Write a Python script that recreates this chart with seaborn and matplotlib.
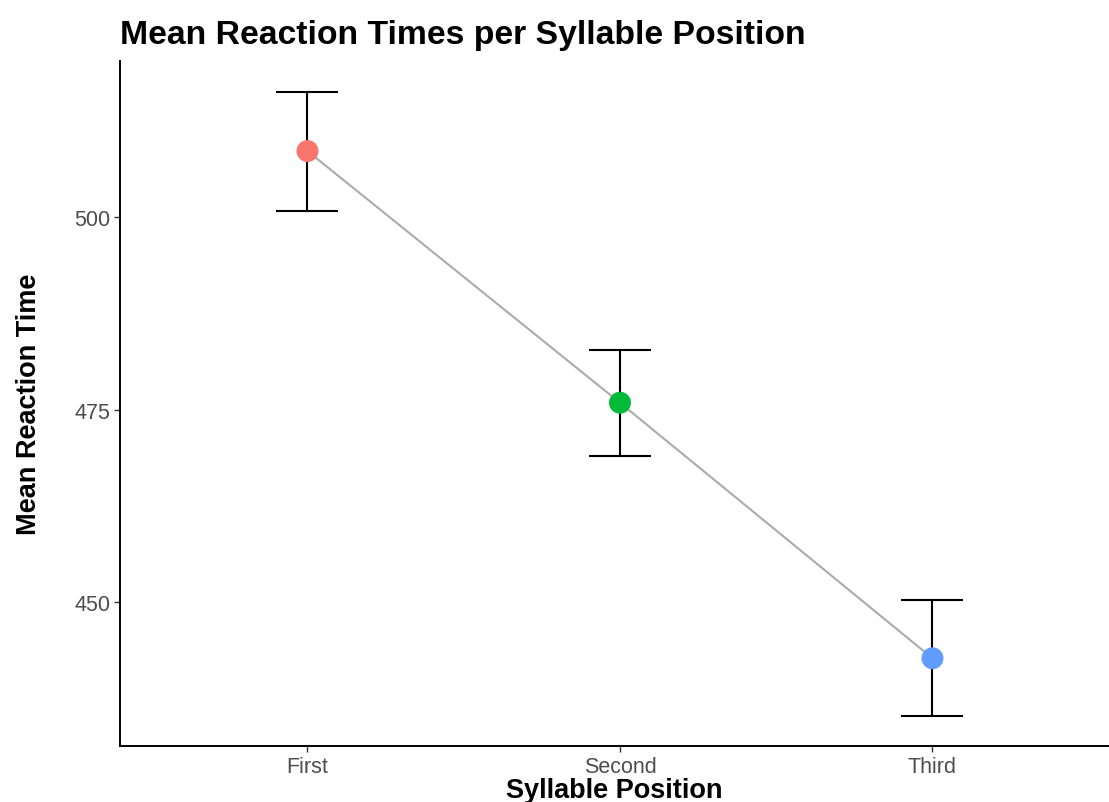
import matplotlib
matplotlib.use("Agg")
import matplotlib.pyplot as plt
import seaborn as sns
import pandas as pd

positions = ["First", "Second", "Third"]
mean_rt = [508.6, 475.9, 442.7]
ci_low = [500.8, 469.0, 435.2]
ci_high = [516.3, 482.8, 450.3]
colors = ["#F8766D", "#00BA38", "#619CFF"]
y_ticks = [450, 475, 500]

sns.set_theme(style="ticks")
plt.rcParams["font.family"] = ["Liberation Sans", "DejaVu Sans"]
plt.rcParams["text.color"] = "black"
plt.rcParams["axes.labelcolor"] = "black"

df = pd.DataFrame({"pos": positions, "rt": mean_rt, "lo": ci_low, "hi": ci_high})
df["x"] = range(len(positions))

fig = plt.figure(figsize=(11.09, 8.03), dpi=100)
ax = fig.add_axes([120 / 1109, 1 - 747 / 803, 1 - 120 / 1109, (747 - 62) / 803])

sns.lineplot(data=df, x="x", y="rt", color="#ABABAB", linewidth=1.5, ax=ax, zorder=1)
ax.errorbar(df["x"], df["rt"],
            yerr=[df["rt"] - df["lo"], df["hi"] - df["rt"]],
            fmt="none", ecolor="black", elinewidth=1.5, capsize=22.5, capthick=1.5, zorder=2)
sns.scatterplot(data=df, x="x", y="rt", hue="pos", palette=colors, s=250,
                edgecolor="none", legend=False, ax=ax, zorder=3)

ax.set_xlim(-0.6, 2.565)
ax.set_ylim(431.3, 520.3)
ax.set_xticks(df["x"])
ax.set_xticklabels(positions)
ax.set_yticks(y_ticks)
ax.tick_params(axis="both", length=4, width=1, color="#333333", labelsize=15.5,
               labelcolor="#4D4D4D", pad=3, direction="out", bottom=True, left=True)

for side in ["top", "right"]:
    ax.spines[side].set_visible(False)
for side in ["left", "bottom"]:
    ax.spines[side].set_color("black")
    ax.spines[side].set_linewidth(1.4)

ax.set_xlabel("Syllable Position", fontsize=19.5, fontweight="bold", labelpad=0, color="black")
ax.set_ylabel("Mean Reaction Time", fontsize=19.5, fontweight="bold", color="black")
ax.yaxis.set_label_coords(-0.079, 0.5)
ax.set_title("Mean Reaction Times per Syllable Position", loc="left",
             fontsize=24.3, fontweight="bold", pad=13, color="black")

fig.savefig("out.png", dpi=100)
